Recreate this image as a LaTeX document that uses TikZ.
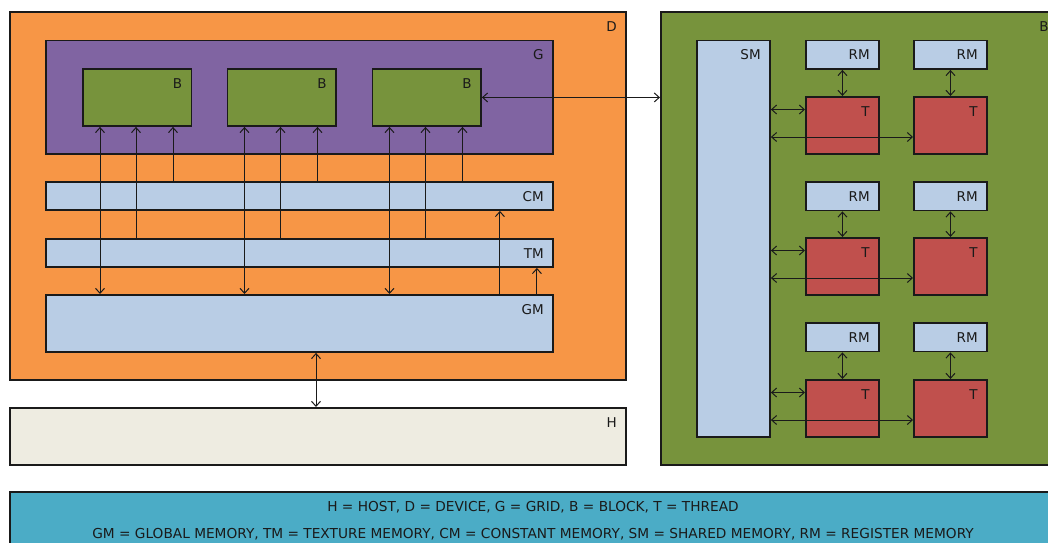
\documentclass[tikz,border=0pt]{standalone}
\usepackage{fontspec}
\setmainfont{DejaVu Sans}
\usetikzlibrary{arrows.meta,calc}
\definecolor{cOrange}{HTML}{F79646}
\definecolor{cPurple}{HTML}{8064A2}
\definecolor{cGreen}{HTML}{77933C}
\definecolor{cLight}{HTML}{B9CDE5}
\definecolor{cRed}{HTML}{C0504D}
\definecolor{cHost}{HTML}{EEECE1}
\definecolor{cLegend}{HTML}{4BACC6}
\definecolor{cLine}{HTML}{1A1A1A}
\tikzset{
  box/.style={draw=cLine, line width=1.9pt, rectangle, inner sep=0pt, anchor=north west},
  lbl/.style={anchor=base east, inner sep=0pt, text=cLine, font=\fontsize{13.5}{16}\selectfont},
  conn/.style={draw=cLine, line width=1pt, arrows={-Straight Barb[length=5pt,width=9pt,line width=1pt]}},
  biconn/.style={draw=cLine, line width=1pt, arrows={Straight Barb[length=5pt,width=9pt,line width=1pt]-Straight Barb[length=5pt,width=9pt,line width=1pt]}},
  legtext/.style={anchor=base, inner sep=0pt, text=cLine, font=\fontsize{13.7}{16}\selectfont}
}
\begin{document}
\begin{tikzpicture}[x=1pt,y=-1pt]
\path[use as bounding box, clip] (0,0) rectangle (1048,542);
\fill[white] (0,0) rectangle (1048,542);

% Device
\node[box, fill=cOrange, minimum width=616pt, minimum height=368pt] (D) at (9,11) {};
\node[lbl] (Dl) at ($(D.north east)+(-10,20)$) {D};
% Grid
\node[box, fill=cPurple, minimum width=507pt, minimum height=113.5pt] (G) at (45,39.5) {};
\node[lbl] (Gl) at ($(G.north east)+(-10,20)$) {G};
% Blocks
\foreach \i/\x in {1/82,2/226.5,3/371.5}{
  \node[box, fill=cGreen, minimum width=108.5pt, minimum height=57pt] (B\i) at (\x,68) {};
  \node[lbl] (B\i l) at ($(B\i.north east)+(-10,20)$) {B};
}
% Memories
\node[box, fill=cLight, minimum width=507pt, minimum height=28pt] (CM) at (45,181) {};
\node[lbl] (CMl) at ($(CM.north east)+(-10,20)$) {CM};
\node[box, fill=cLight, minimum width=507pt, minimum height=28pt] (TM) at (45,238) {};
\node[lbl] (TMl) at ($(TM.north east)+(-10,20)$) {TM};
\node[box, fill=cLight, minimum width=507pt, minimum height=57pt] (GM) at (45,294) {};
\node[lbl] (GMl) at ($(GM.north east)+(-10,20)$) {GM};
% Host
\node[box, fill=cHost, minimum width=616pt, minimum height=57pt] (H) at (9,407) {};
\node[lbl] (Hl) at ($(H.north east)+(-10,20)$) {H};

% Right block
\node[box, fill=cGreen, minimum width=397pt, minimum height=453pt] (RB) at (660,11) {};
\node[lbl] (RBl) at ($(RB.north east)+(-10,20)$) {B};
\node[box, fill=cLight, minimum width=73pt, minimum height=396.5pt] (SM) at (696,39.5) {};
\node[lbl] (SMl) at ($(SM.north east)+(-10,20)$) {SM};
\foreach \r/\ry/\ty in {1/39.5/96, 2/181/237, 3/322/379}{
  \foreach \c/\cx in {1/805, 2/913}{
    \node[box, fill=cLight, minimum width=73pt, minimum height=28.5pt] (RM\r\c) at (\cx,\ry) {};
    \node[lbl] (RM\r\c l) at ($(RM\r\c.north east)+(-10,20)$) {RM};
    \node[box, fill=cRed, minimum width=73pt, minimum height=57pt] (T\r\c) at (\cx,\ty) {};
    \node[lbl] (T\r\c l) at ($(T\r\c.north east)+(-10,20)$) {T};
    \draw[biconn] (RM\r\c.south) -- (T\r\c.north);
  }
  \coordinate (sa\r) at ($(T\r1.north west)+(0,13.5)$);
  \coordinate (sb\r) at ($(T\r2.north west)+(0,41)$);
  \draw[biconn] (sa\r -| SM.east) -- (sa\r);
  \draw[biconn] (sb\r -| SM.east) -- (sb\r);
}

% Connectors in device
\foreach \i in {1,2,3}{
  \coordinate (ga\i) at ($(B\i.south west)+(18,0)$);
  \coordinate (ta\i) at ($(B\i.south west)+(54,0)$);
  \coordinate (ca\i) at ($(B\i.south west)+(91,0)$);
  \draw[biconn] (ga\i) -- (ga\i |- GM.north);
  \draw[conn] (ta\i |- TM.north) -- (ta\i);
  \draw[conn] (ca\i |- CM.north) -- (ca\i);
}
\coordinate (gc) at ($(GM.north east)+(-54,0)$);
\coordinate (gt) at ($(GM.north east)+(-17,0)$);
\coordinate (gh) at ($(GM.south west)+(271,0)$);
\draw[conn] (gc) -- (gc |- CM.south);
\draw[conn] (gt) -- (gt |- TM.south);
\draw[biconn] (gh) -- (gh |- H.north);
\draw[biconn] (B3.east) -- (B3.east -| RB.west);

% Legend
\node[box, fill=cLegend, minimum width=1048pt, minimum height=80pt] (L) at (9,491) {};
\node[legtext] (L1) at (533,511) {H = HOST, D = DEVICE, G = GRID, B = BLOCK, T = THREAD};
\node[legtext] (L2) at (533,538) {GM = GLOBAL MEMORY, TM = TEXTURE MEMORY, CM = CONSTANT MEMORY, SM = SHARED MEMORY, RM = REGISTER MEMORY};
\end{tikzpicture}
\end{document}
